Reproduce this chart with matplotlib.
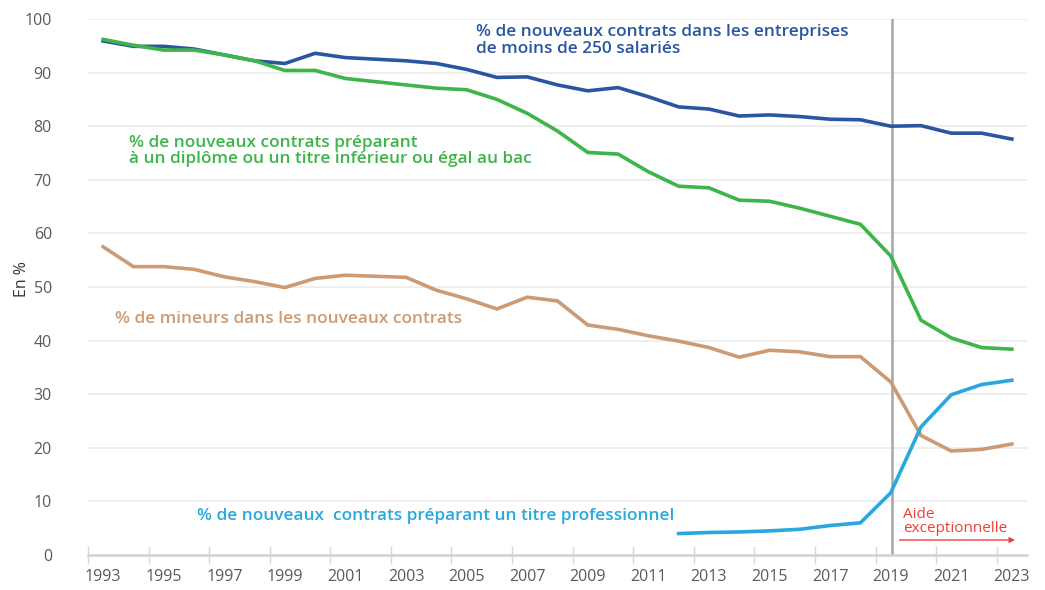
import numpy as np
import matplotlib.pyplot as plt

# ── DATA ─────────────────────────────────────────────────────
years = list(range(1993, 2024))

pme_250 = [95.9, 94.9, 94.9, 94.4, 93.3, 92.2, 91.7, 93.6, 92.8, 92.5,
           92.2, 91.7, 90.6, 89.1, 89.2, 87.7, 86.6, 87.2, 85.5, 83.6,
           83.2, 81.9, 82.1, 81.8, 81.3, 81.2, 80.0, 80.1, 78.7, 78.7, 77.6]

infra_bac = [96.2, 95.1, 94.2, 94.2, 93.3, 92.2, 90.4, 90.4, 88.9, 88.3,
             87.7, 87.1, 86.8, 85.0, 82.4, 79.1, 75.1, 74.8, 71.5, 68.8,
             68.5, 66.2, 66.0, 64.7, 63.2, 61.7, 55.8, 43.8, 40.5, 38.7, 38.4]

mineurs = [57.5, 53.8, 53.8, 53.3, 51.9, 51.0, 49.9, 51.6, 52.2, 52.0,
           51.8, 49.4, 47.8, 45.9, 48.1, 47.4, 42.9, 42.1, 40.9, 39.9,
           38.7, 36.9, 38.2, 37.9, 37.0, 37.0, 32.3, 22.3, 19.4, 19.7, 20.7]

years_pro = list(range(2012, 2024))
titre_pro = [4.0, 4.2, 4.3, 4.5, 4.8, 5.5, 6.0, 11.6, 23.9, 29.9, 31.8, 32.6]

label_years = list(range(1993, 2024, 2))
y_ticks = list(range(0, 101, 10))

C_BLUE = "#2a56a0"
C_GREEN = "#3db54a"
C_BROWN = "#cc9b75"
C_LBLUE = "#29a8e0"
C_RED = "#ee4035"
C_TEXT = "#5a5a5a"

plt.rcParams["font.family"] = ["Open Sans", "DejaVu Sans"]

# ── PLOT ─────────────────────────────────────────────────────
fig = plt.figure(figsize=(10.45, 5.9), dpi=100)
ax = fig.add_axes([88 / 1045, 1 - 555 / 590, (1027 - 88) / 1045, (555 - 19) / 590])

for yv in y_ticks[1:]:
    ax.axhline(yv, color="#ebebeb", lw=1.2, zorder=0)

ax.plot(years, pme_250, color=C_BLUE, lw=2.6, solid_joinstyle="miter", zorder=3)
ax.plot(years, infra_bac, color=C_GREEN, lw=2.6, solid_joinstyle="miter", zorder=3)
ax.plot(years, mineurs, color=C_BROWN, lw=2.6, solid_joinstyle="miter", zorder=3)
ax.plot(years_pro, titre_pro, color=C_LBLUE, lw=2.6, solid_joinstyle="miter", zorder=3)

# year of the exceptional hiring aid
ax.axvline(2019.05, color="#a6a6a6", lw=1.8, zorder=2)

ax.set_xlim(1992.5, 2023.5)
ax.set_ylim(0, 100)

ax.set_xticks(label_years)
ax.set_xticks(np.arange(1992.5, 2023, 2), minor=True)
ax.tick_params(axis="x", which="major", length=0, pad=10, labelsize=11.5, labelcolor=C_TEXT)
ax.tick_params(axis="x", which="minor", direction="inout", length=13, width=1, color="#d9d9d9")
ax.set_yticks(y_ticks)
ax.tick_params(axis="y", length=0, pad=26, labelsize=11.5, labelcolor=C_TEXT)

for s in ["top", "right", "left"]:
    ax.spines[s].set_visible(False)
ax.spines["bottom"].set_color("#d0d0d0")
ax.spines["bottom"].set_linewidth(1.8)

fig.text(22 / 1045, 1 - 279 / 590, "En %", rotation=90, fontsize=11.5, color="#333333",
         fontweight="medium", ha="center", va="center")

ax.text(2005.3, 99.0, "% de nouveaux contrats dans les entreprises\nde moins de 250 salariés",
        color=C_BLUE, fontsize=12.4, fontweight="semibold", va="top", ha="left", linespacing=1.05)
ax.text(1993.85, 78.4, "% de nouveaux contrats préparant\nà un diplôme ou un titre inférieur ou égal au bac",
        color=C_GREEN, fontsize=12.4, fontweight="semibold", va="top", ha="left", linespacing=1.05)
ax.text(1993.4, 44.0, "% de mineurs dans les nouveaux contrats",
        color=C_BROWN, fontsize=12.4, fontweight="semibold", va="center", ha="left")
ax.text(1996.1, 7.3, "% de nouveaux  contrats préparant un titre professionnel",
        color=C_LBLUE, fontsize=12.4, fontweight="semibold", va="center", ha="left")
ax.text(2019.4, 9.0, "Aide\nexceptionnelle", color=C_RED, fontsize=11,
        va="top", ha="left", linespacing=0.95)
ax.annotate("", xy=(2023.2, 2.8), xytext=(2019.2, 2.8),
            arrowprops=dict(arrowstyle="-|>", color=C_RED, lw=1, mutation_scale=8))

fig.savefig("out.png", dpi=100)
